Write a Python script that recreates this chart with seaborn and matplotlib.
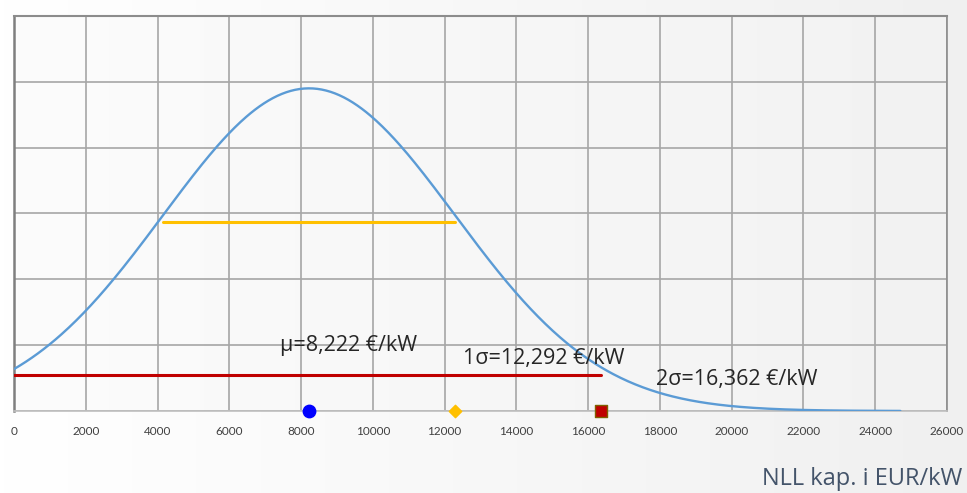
import numpy as np
import pandas as pd
import matplotlib
matplotlib.use("Agg")
import matplotlib.pyplot as plt
import seaborn as sns

# Distribution parameters (EUR/kW)
mean_cost = 8222
one_sigma_cost = 12292
two_sigma_cost = 16362
sigma = one_sigma_cost - mean_cost
curve_range = [0, 24700]

# Horizontal reference bars: [start, end, height]
band_1sigma = [mean_cost - sigma, one_sigma_cost, 5.75e-5]
band_2sigma = [0, two_sigma_cost, 1.10e-5]

x_ticks = list(range(0, 26001, 2000))
y_ticks = [0, 2e-5, 4e-5, 6e-5, 8e-5, 1e-4, 1.2e-4]

labels = ["μ=8,222 €/kW", "1σ=12,292 €/kW", "2σ=16,362 €/kW"]
label_pos = [(7420, 2.0e-5), (12520, 1.6e-5), (17900, 0.95e-5)]

# Normal density over the cost range
xs = np.linspace(curve_range[0], curve_range[1], 600)
pdf = np.exp(-0.5 * ((xs - mean_cost) / sigma) ** 2) / (sigma * np.sqrt(2 * np.pi))
curve = pd.DataFrame({"cost": xs, "density": pdf})

markers = pd.DataFrame({
    "cost": [mean_cost, one_sigma_cost, two_sigma_cost],
    "density": [0, 0, 0],
    "kind": ["mu", "1s", "2s"],
})

sns.set_style("white")
plt.rcParams["font.family"] = ["Lato", "DejaVu Sans"]

fig = plt.figure(figsize=(9.67, 4.93), dpi=100)

# soft white-to-grey backdrop
bg = fig.add_axes([0, 0, 1, 1], zorder=-10)
grad = np.linspace(0, 1, 256)[None, :]
bg.imshow(grad, aspect="auto", cmap=matplotlib.colors.LinearSegmentedColormap.from_list(
    "bg", ["#ffffff", "#f0f0f0"]), extent=[0, 1, 0, 1])
bg.axis("off")

ax = fig.add_axes([14 / 967, 1 - 411 / 493, 933 / 967, 395 / 493])
ax.set_facecolor("none")
ax.imshow(grad, aspect="auto", cmap=matplotlib.colors.LinearSegmentedColormap.from_list(
    "ax", ["#fcfcfc", "#f2f2f2"]), extent=[0, 26000, 0, 1.2e-4], zorder=0)

sns.lineplot(data=curve, x="cost", y="density", ax=ax, color="#5b9bd5",
             linewidth=1.7, zorder=3)

ax.plot(band_1sigma[:2], [band_1sigma[2]] * 2, color="#ffc000", linewidth=2.2, zorder=3)
ax.plot(band_2sigma[:2], [band_2sigma[2]] * 2, color="#c00000", linewidth=2.2, zorder=3)

styles = {
    "mu": dict(marker="o", color="#0000ff", edgecolor="#0000ff", s=80),
    "1s": dict(marker="D", color="#ffc000", edgecolor="#ffc000", s=40),
    "2s": dict(marker="s", color="#c00000", edgecolor="#7f6000", s=75),
}
for kind, st in styles.items():
    sub = markers[markers["kind"] == kind]
    sns.scatterplot(data=sub, x="cost", y="density", ax=ax, marker=st["marker"],
                    color=st["color"], edgecolor=st["edgecolor"], s=st["s"],
                    linewidth=1.0, zorder=5, clip_on=False, legend=False)

for text, (tx, ty) in zip(labels, label_pos):
    ax.text(tx, ty, text, fontsize=15.5, color="#262626", va="center", ha="left",
            zorder=6, family=["Open Sans", "DejaVu Sans"])

ax.set_xlim(0, 26000)
ax.set_ylim(0, 1.2e-4)
ax.set_xticks(x_ticks)
ax.set_xticklabels([str(t) for t in x_ticks], fontsize=8.5, color="#404040")
ax.set_yticks(y_ticks)
ax.set_yticklabels([])
ax.tick_params(axis="x", length=4, width=1, color="#a6a6a6", pad=7)
ax.tick_params(axis="y", length=0)
ax.grid(True, color="#a6a6a6", linewidth=1.2, zorder=1)
ax.set_axisbelow(True)
ax.set_xlabel("")
ax.set_ylabel("")

for side, col, lw in [("left", "#7f7f7f", 1.8), ("top", "#8c8c8c", 1.5),
                      ("right", "#8c8c8c", 1.2), ("bottom", "#bfbfbf", 1.2)]:
    ax.spines[side].set_visible(True)
    ax.spines[side].set_color(col)
    ax.spines[side].set_linewidth(lw)

fig.text(962 / 967, 1 - 479 / 493, "NLL kap. i EUR/kW", ha="right", va="center",
         fontsize=17, color="#44546a", family=["Open Sans", "DejaVu Sans"])

fig.savefig("out.png", dpi=100)
